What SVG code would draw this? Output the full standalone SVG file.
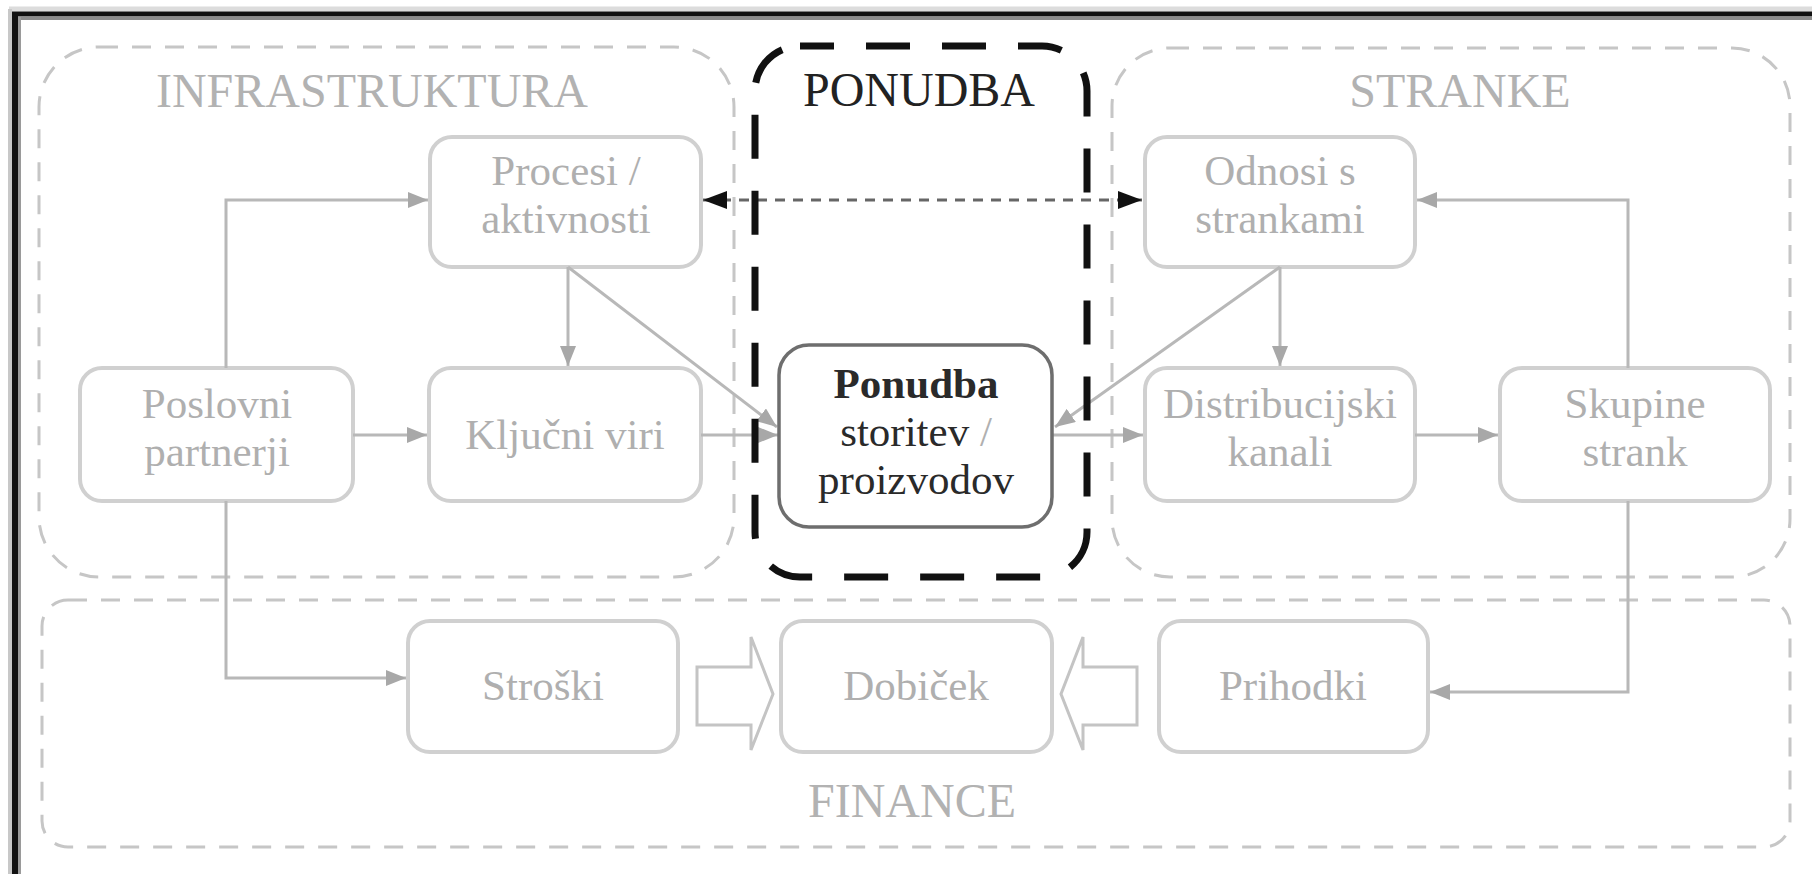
<svg xmlns="http://www.w3.org/2000/svg" width="1812" height="874" viewBox="0 0 1812 874">
<style>
.grp{fill:none;stroke:#c6c6c6;stroke-width:3;stroke-dasharray:19 14}
.ttl{font-family:"Liberation Serif","Times New Roman",serif;font-size:48px;fill:#b2b2b2;text-anchor:middle}
.node rect{fill:#fff;stroke:#d0d0d0;stroke-width:4}
.lbl{font-family:"Liberation Serif","Times New Roman",serif;font-size:43px;fill:#afafaf;text-anchor:middle}
.con{fill:none;stroke:#b8b8b8;stroke-width:3}
.blk{fill:#fff;stroke:#c4c4c4;stroke-width:3;stroke-linejoin:miter}
.pn{font-family:"Liberation Serif","Times New Roman",serif;font-size:43px;fill:#2a2a2a;text-anchor:middle}
</style>
<defs>
<marker id="ag" markerWidth="20" markerHeight="16" refX="20" refY="8" orient="auto" markerUnits="userSpaceOnUse"><path d="M0,0 L20,8 L0,16 Z" fill="#a8a8a8"/></marker>
<marker id="ab" markerWidth="24" markerHeight="18" refX="24" refY="9" orient="auto-start-reverse" markerUnits="userSpaceOnUse"><path d="M0,0 L24,9 L0,18 Z" fill="#111"/></marker>
</defs>
<rect x="0" y="0" width="1812" height="874" fill="#fff"/>
<g id="frame">
<line x1="9" y1="9" x2="1812" y2="9" stroke="#dcdcdc" stroke-width="5"/>
<line x1="10" y1="9" x2="10" y2="874" stroke="#c8c8c8" stroke-width="4"/>
<line x1="12" y1="14" x2="1812" y2="14" stroke="#111" stroke-width="5"/>
<line x1="15" y1="12" x2="15" y2="874" stroke="#111" stroke-width="6"/>
<line x1="18" y1="18.5" x2="1812" y2="18.5" stroke="#8c8c8c" stroke-width="3"/>
<line x1="19.5" y1="17" x2="19.5" y2="874" stroke="#9a9a9a" stroke-width="3"/>
</g>
<g id="infrastruktura">
<rect class="grp" x="39" y="47" width="695" height="530" rx="60"/>
<text class="ttl" x="372" y="107">INFRASTRUKTURA</text>
</g>
<g id="stranke">
<rect class="grp" x="1112" y="48" width="678" height="529" rx="58"/>
<text class="ttl" x="1460" y="107">STRANKE</text>
</g>
<g id="finance">
<rect class="grp" x="42" y="600" width="1748" height="247" rx="26"/>
<text class="ttl" x="912" y="817">FINANCE</text>
</g>
<g id="procesi" class="node"><rect x="430" y="137" width="271" height="130" rx="22"/>
<text class="lbl" x="566" y="185">Procesi /</text><text class="lbl" x="566" y="233">aktivnosti</text></g>
<g id="poslovni" class="node"><rect x="80" y="368" width="273" height="133" rx="22"/>
<text class="lbl" x="217" y="418">Poslovni</text><text class="lbl" x="217" y="466">partnerji</text></g>
<g id="kljucni" class="node"><rect x="429" y="368" width="272" height="133" rx="22"/>
<text class="lbl" x="565" y="449">Ključni viri</text></g>
<g id="odnosi" class="node"><rect x="1145" y="137" width="270" height="130" rx="22"/>
<text class="lbl" x="1280" y="185">Odnosi s</text><text class="lbl" x="1280" y="233">strankami</text></g>
<g id="distribucijski" class="node"><rect x="1145" y="368" width="270" height="133" rx="22"/>
<text class="lbl" x="1280" y="418">Distribucijski</text><text class="lbl" x="1280" y="466">kanali</text></g>
<g id="skupine" class="node"><rect x="1500" y="368" width="270" height="133" rx="22"/>
<text class="lbl" x="1635" y="418">Skupine</text><text class="lbl" x="1635" y="466">strank</text></g>
<g id="stroski" class="node"><rect x="408" y="621" width="270" height="131" rx="22"/>
<text class="lbl" x="543" y="700">Stroški</text></g>
<g id="dobicek" class="node"><rect x="781" y="621" width="271" height="131" rx="22"/>
<text class="lbl" x="916" y="700">Dobiček</text></g>
<g id="prihodki" class="node"><rect x="1159" y="621" width="269" height="131" rx="22"/>
<text class="lbl" x="1293" y="700">Prihodki</text></g>
<g id="connectors">
<path class="con" d="M226,368 V200 H428" marker-end="url(#ag)"/>
<path class="con" d="M353,435 H427" marker-end="url(#ag)"/>
<path class="con" d="M568,267 V366" marker-end="url(#ag)"/>
<path class="con" d="M568,267 L777,427" marker-end="url(#ag)"/>
<path class="con" d="M701,435 H778" marker-end="url(#ag)"/>
<path class="con" d="M226,501 V678 H406" marker-end="url(#ag)"/>
<path class="con" d="M1052,435 H1143" marker-end="url(#ag)"/>
<path class="con" d="M1280,267 L1055,427" marker-end="url(#ag)"/>
<path class="con" d="M1280,267 V366" marker-end="url(#ag)"/>
<path class="con" d="M1415,435 H1498" marker-end="url(#ag)"/>
<path class="con" d="M1628,368 V200 H1417" marker-end="url(#ag)"/>
<path class="con" d="M1628,501 V692 H1430" marker-end="url(#ag)"/>
<path d="M703,200 H1142" fill="none" stroke="#666" stroke-width="3" stroke-dasharray="10 8" marker-start="url(#ab)" marker-end="url(#ab)"/>
<path class="blk" d="M697,667 H751 V637 L773,694 L751,750 V725 H697 Z"/>
<path class="blk" d="M1137,667 H1083 V637 L1061,694 L1083,750 V725 H1137 Z"/>
</g>
<g id="ponudba">
<rect x="755" y="46" width="332" height="531" rx="45" fill="none" stroke="#111" stroke-width="7" stroke-dasharray="44 32" stroke-dashoffset="10"/>
<text x="919" y="106" font-family="Liberation Serif, Times New Roman, serif" font-size="48" fill="#222" text-anchor="middle">PONUDBA</text>
</g>
<g id="ponudba-node">
<rect x="779" y="345" width="273" height="182" rx="30" fill="#fff" stroke="#6e6e6e" stroke-width="3.5"/>
<text class="pn" x="916" y="398" font-weight="bold" fill="#1e1e1e">Ponudba</text>
<text class="pn" x="916" y="446">storitev <tspan fill="#b0b0b0">/</tspan></text>
<text class="pn" x="916" y="494">proizvodov</text>
</g>
</svg>
